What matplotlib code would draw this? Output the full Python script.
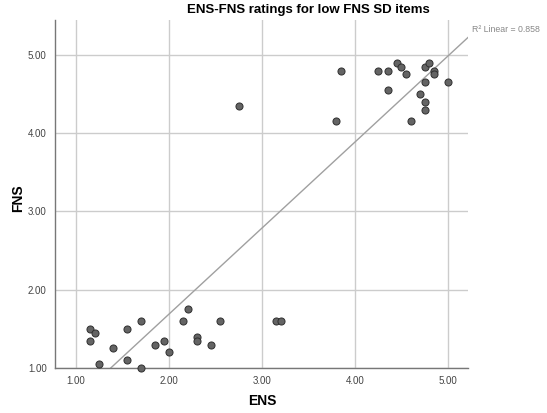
import numpy as np
import matplotlib
matplotlib.use("Agg")
import matplotlib.pyplot as plt

plt.rcParams['font.family'] = ['Liberation Sans', 'DejaVu Sans']

# ENS / FNS mean ratings per item
ens = [3.85, 4.25, 4.35, 4.45, 4.50, 4.55, 4.35, 4.75, 4.80, 4.85,
       4.85, 4.75, 5.00, 4.70, 4.75, 4.75, 3.80, 4.60, 2.75,
       1.15, 1.20, 1.15, 1.25, 1.40, 1.55, 1.70, 1.55, 1.70, 1.85,
       1.95, 2.00, 2.15, 2.20, 2.55, 2.30, 2.30, 2.45, 3.15, 3.20]
fns = [4.80, 4.80, 4.80, 4.90, 4.85, 4.75, 4.55, 4.85, 4.90, 4.80,
       4.75, 4.65, 4.65, 4.50, 4.40, 4.30, 4.15, 4.15, 4.35,
       1.50, 1.45, 1.35, 1.05, 1.25, 1.50, 1.60, 1.10, 1.00, 1.30,
       1.35, 1.20, 1.60, 1.75, 1.60, 1.40, 1.35, 1.30, 1.60, 1.60]
ticks = [1.0, 2.0, 3.0, 4.0, 5.0]

fig = plt.figure(figsize=(5.47, 4.13), dpi=100)
ax = fig.add_axes([0.1005, 0.109, 0.755, 0.8426])

ax.set_xlim(0.774, 5.215)
ax.set_ylim(1.0, 5.446)
ax.set_xticks(ticks)
ax.set_yticks(ticks)
ax.set_xticklabels([f"{t:.2f}" for t in ticks])
ax.set_yticklabels([f"{t:.2f}" for t in ticks])
ax.grid(True, color='#cccccc', linewidth=1.0)
ax.set_axisbelow(True)
ax.tick_params(length=0, labelsize=7, colors='#444444', pad=6)

for s in ['top', 'right']:
    ax.spines[s].set_visible(False)
for s in ['left', 'bottom']:
    ax.spines[s].set_color('#777777')
    ax.spines[s].set_linewidth(1.0)

ax.scatter(ens, fns, s=26, facecolor='#646464', edgecolor='#2f2f2f',
           linewidth=0.7, zorder=3, clip_on=False)

# linear fit line across the whole x range
slope, icpt = np.polyfit(ens, fns, 1)
xx = np.array(ax.get_xlim())
ax.plot(xx, slope * xx + icpt, color='#a0a0a0', linewidth=1.0,
        zorder=2, clip_on=True)
ax.set_ylim(1.0, 5.446)

fig.text(472 / 547, 1 - 29 / 413, 'R² Linear = 0.858', fontsize=6.3,
         color='#888888', va='center', ha='left')

fig.text(308 / 547, 1 - 10 / 413, 'ENS-FNS ratings for low FNS SD items',
         fontsize=9.5, fontweight='bold', ha='center', va='center')
fig.text(262 / 547, 1 - 401 / 413, 'ENS', fontsize=10, fontweight='bold',
         ha='center', va='center')
fig.text(18 / 547, 1 - 198 / 413, 'FNS', fontsize=10, fontweight='bold',
         ha='center', va='center', rotation=90)

fig.savefig('out.png', dpi=100)
